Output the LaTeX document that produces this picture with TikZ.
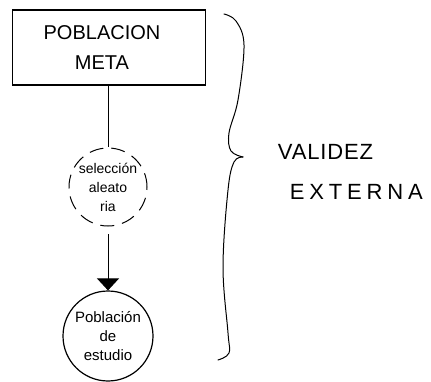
\documentclass[tikz,border=0pt]{standalone}
\usepackage{fontspec}
\setmainfont{Liberation Sans}
\usetikzlibrary{arrows.meta}
\begin{document}
\begin{tikzpicture}[x=1pt,y=-1pt, line width=1pt,
  bigbox/.style={draw, line width=1.2pt, minimum width=193pt, minimum height=75pt,
    inner sep=0pt, align=center, font=\fontsize{20}{30}\selectfont},
  dashcircle/.style={draw, circle, minimum size=78pt, inner sep=0pt, align=center,
    dash pattern=on 14pt off 8pt, font=\fontsize{14}{19}\selectfont},
  solidcircle/.style={draw, circle, line width=1.2pt, minimum size=90pt, inner sep=0pt,
    align=center, font=\fontsize{15}{19}\selectfont},
  sidetext/.style={anchor=west,
    font={\fontsize{22}{26}\selectfont\addfontfeature{LetterSpace=#1}}},
  link/.style={draw, line width=1pt}]
\useasboundingbox (0,0) rectangle (431,382);

% target population box
\node[bigbox] (meta) at (109,47.5) {POBLACION\hspace*{14pt}\\META\hspace*{14pt}};

% random selection step
\node[dashcircle] (sel) at (108,187) {selección\\aleato\\ria};

% study population
\node[solidcircle] (est) at (108,336) {Población\\de\\estudio};

% connectors
\draw[link] (meta.south -| sel.north) -- (sel.north);
\draw[link, shorten <=8pt, -{Triangle[width=22pt,length=12pt]}] (sel.south) -- (est.north);

% hand-drawn brace spanning the whole chain
\draw[line width=1pt, line cap=round] plot[smooth, tension=0.6] coordinates {
  (224,14) (236,21) (244,45) (238,100) (229,133) (231,151) (243,157)};
\draw[line width=1pt, line cap=round] plot[smooth, tension=0.6] coordinates {
  (243,157) (234,162) (228,190) (223,267) (228,333) (229,353) (218,360)};
\coordinate (tip) at (243,157);

% label
\node[sidetext=4] (val) at (274,152) {VALIDEZ};
\node[sidetext=22] (ext) at (286,192) {EXTERNA};
\end{tikzpicture}
\end{document}
